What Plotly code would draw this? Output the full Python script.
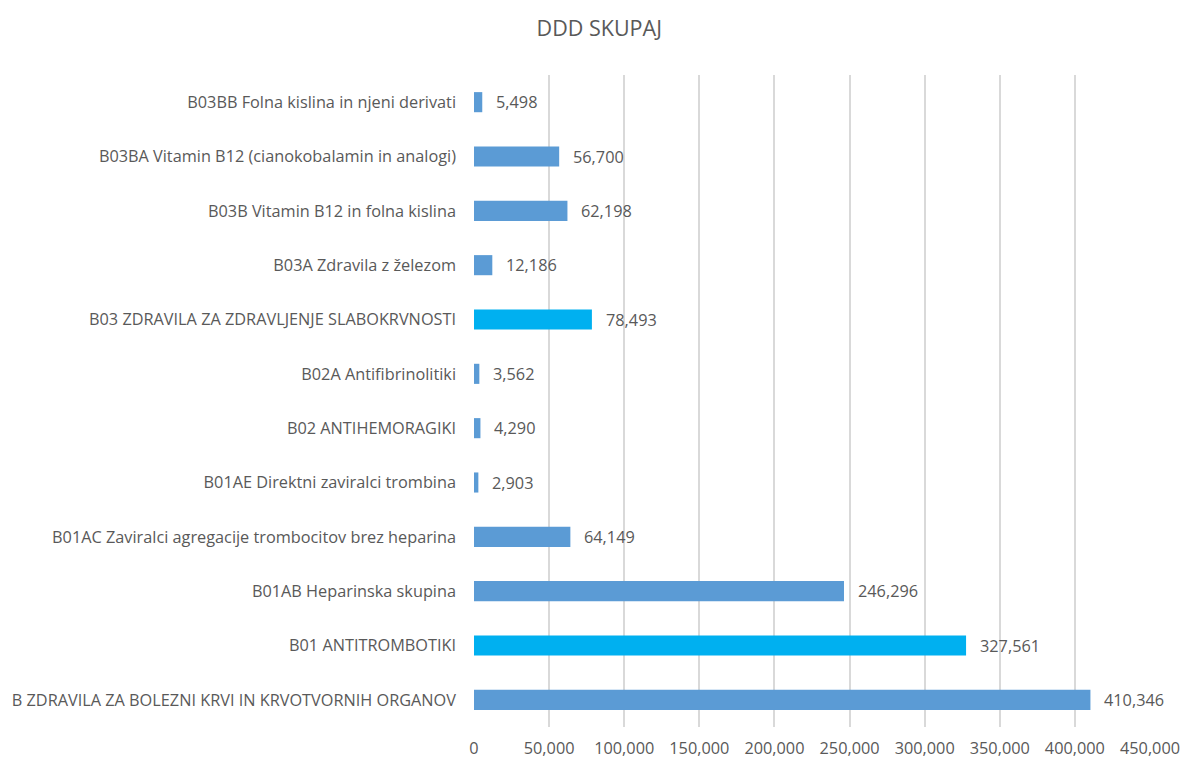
import plotly.graph_objects as go

# Categories listed bottom to top
categories = [
    "B ZDRAVILA ZA BOLEZNI KRVI IN KRVOTVORNIH ORGANOV",
    "B01 ANTITROMBOTIKI",
    "B01AB Heparinska skupina",
    "B01AC Zaviralci agregacije trombocitov brez heparina",
    "B01AE Direktni zaviralci trombina",
    "B02 ANTIHEMORAGIKI",
    "B02A Antifibrinolitiki",
    "B03 ZDRAVILA ZA ZDRAVLJENJE SLABOKRVNOSTI",
    "B03A Zdravila z železom",
    "B03B Vitamin B12 in folna kislina",
    "B03BA Vitamin B12 (cianokobalamin in analogi)",
    "B03BB Folna kislina in njeni derivati",
]
ddd_values = [410346, 327561, 246296, 64149, 2903, 4290, 3562, 78493, 12186, 62198, 56700, 5498]
highlighted = ["B01 ANTITROMBOTIKI", "B03 ZDRAVILA ZA ZDRAVLJENJE SLABOKRVNOSTI"]

x_ticks = [0, 50000, 100000, 150000, 200000, 250000, 300000, 350000, 400000, 450000]

BASE = "#5B9BD5"
ACCENT = "#00B0F0"
TEXT = "#595959"
FONT = "Open Sans"
SIZE = 16.3

colors = [ACCENT if c in highlighted else BASE for c in categories]

fig = go.Figure(
    go.Bar(
        y=categories,
        x=ddd_values,
        orientation="h",
        marker=dict(color=colors, line=dict(width=0)),
        hoverinfo="x+y",
    )
)

for cat, val in zip(categories, ddd_values):
    fig.add_annotation(
        x=val, y=cat, xref="x", yref="y",
        text=f"{val:,}", showarrow=False,
        xanchor="left", xshift=12,
        font=dict(family=FONT, size=SIZE, color=TEXT),
    )

fig.update_layout(
    width=1182, height=758,
    margin=dict(l=474, r=32, t=75, b=31),
    paper_bgcolor="white", plot_bgcolor="white",
    title=dict(text="DDD SKUPAJ", x=0.507, xanchor="center", y=0.963, yanchor="middle",
               font=dict(family=FONT, size=21.5, color=TEXT)),
    bargap=0.63,
    showlegend=False,
    font=dict(family=FONT, size=SIZE, color=TEXT),
)
fig.update_xaxes(
    range=[0, 450000], tickvals=x_ticks,
    ticktext=[f"{v:,}" for v in x_ticks],
    showgrid=True, gridcolor="#D9D9D9", gridwidth=1.5,
    zeroline=False, showline=False, ticks="",
    tickfont=dict(family=FONT, size=SIZE, color=TEXT),
    ticklabelstandoff=10, automargin=False,
)
fig.update_yaxes(
    categoryorder="array", categoryarray=categories,
    showgrid=False, zeroline=False, showline=False, ticks="",
    tickfont=dict(family=FONT, size=SIZE, color=TEXT),
    ticklabelstandoff=17, automargin=False,
)

fig.write_html("out.html")
